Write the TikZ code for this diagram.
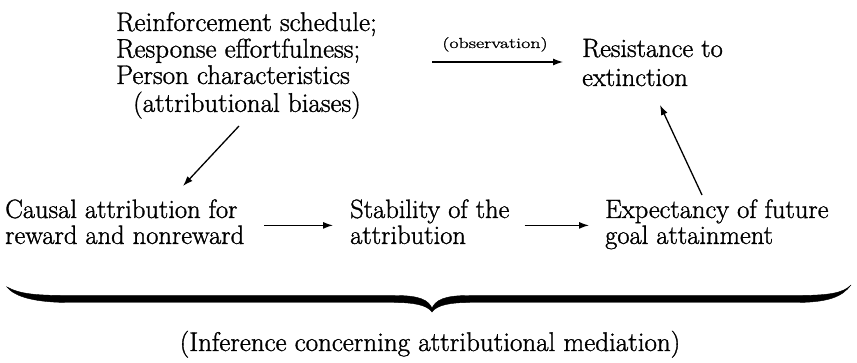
\documentclass[tikz,border=0pt]{standalone}
\usepackage{graphicx}
\usepackage{fontspec}
\setmainfont{Latin Modern Roman}[FakeBold=1.2]
\usetikzlibrary{arrows.meta}
\newcommand{\tlines}[1]{\begin{tabular}[t]{@{}l@{}}#1\end{tabular}}
\begin{document}
\begin{tikzpicture}[x=1pt,y=-1pt,
  txt/.style={inner sep=0pt, anchor=base west, font=\fontsize{26.5}{25}\selectfont},
  arr/.style={line width=1.3pt, -{Latex[length=10pt,width=7pt]}},
  bracefill/.style={fill=black, draw=black, line width=0.4pt}
]
\useasboundingbox (0,0) rectangle (857,363);

% nodes
\node[txt, font=\fontsize{27}{25.5}\selectfont] (cond) at (116,31)
  {\tlines{Reinforcement schedule;\\Response effortfulness;\\Person characteristics\\\hspace*{17pt}(attributional biases)}};
\node[txt, font=\fontsize{26.5}{29}\selectfont] (res) at (582,57)
  {\tlines{Resistance to\\extinction}};
\node[inner sep=0pt, anchor=base, font=\fontsize{14.5}{14.5}\selectfont] (obs) at (495,48)
  {\scalebox{1.38}[1]{(observation)}};
\node[txt] (cause) at (5,218) {\tlines{Causal attribution for\\reward and nonreward}};
\node[txt] (stab) at (350,218) {\tlines{Stability of the\\attribution}};
\node[txt] (exp) at (605,218) {\tlines{Expectancy of future\\goal attainment}};
\node[txt, anchor=base, font=\fontsize{27}{27}\selectfont] (inf) at (430,351)
  {(Inference concerning attributional mediation)};

% free ends of connectors
\coordinate (o1) at (432,62);
\coordinate (o2) at (563,62);
\coordinate (d1s) at (239,126);
\coordinate (d1e) at (183,186);
\coordinate (d2s) at (702,195);
\coordinate (d2e) at (660,105);

% connectors
\draw[arr] (o1) -- (o2);
\draw[arr] (d1s) -- (d1e);
\draw[arr] (d2s) -- (d2e);
\draw[arr, shorten <=20pt, shorten >=17pt] (cause.east) -- (cause.east -| stab.west);
\draw[arr, shorten <=15pt, shorten >=16pt] (stab.east) -- (stab.east -| exp.west);

% brace
\path[bracefill] (7,287)
  .. controls (20,294) and (35,295.5) .. (70,295.5) -- (395,295.5)
  .. controls (420,295.5) and (428,300) .. (432,308)
  .. controls (436,300) and (444,295.5) .. (469,295.5) -- (795,295.5)
  .. controls (830,295.5) and (843,293) .. (851,285)
  .. controls (842,297) and (828,302.5) .. (795,302.5) -- (470,302.5)
  .. controls (450,302.5) and (437,305) .. (432,312)
  .. controls (427,305) and (414,302.5) .. (394,302.5) -- (70,302.5)
  .. controls (35,302.5) and (15,297) .. (7,287) -- cycle;
\end{tikzpicture}
\end{document}
